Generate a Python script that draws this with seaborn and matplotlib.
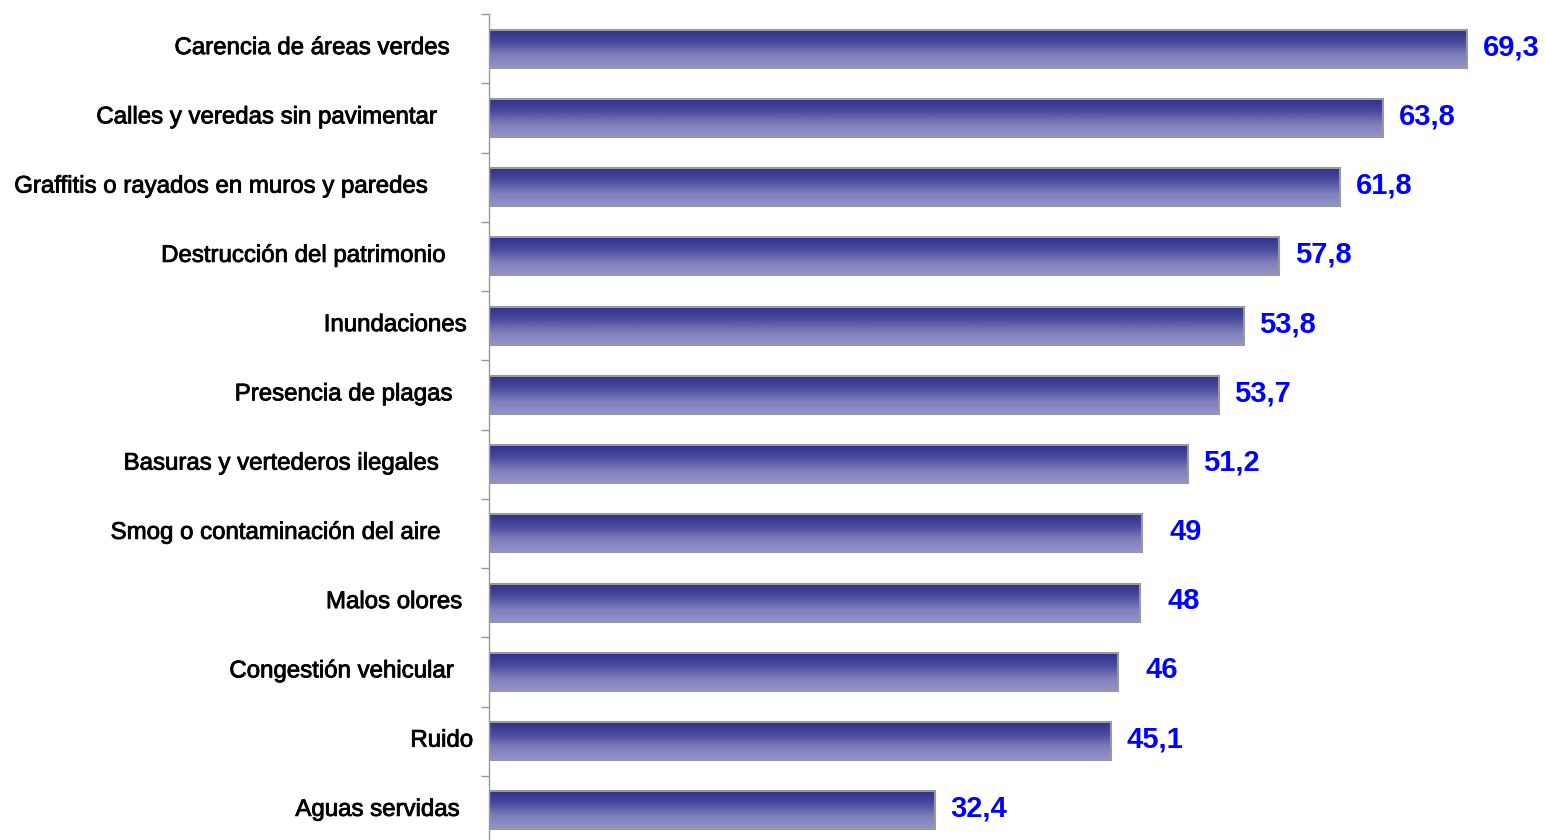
import numpy as np
import pandas as pd
import seaborn as sns
import matplotlib.pyplot as plt
import matplotlib.patheffects as pe
from matplotlib.colors import LinearSegmentedColormap
from matplotlib.transforms import ScaledTranslation

categorias = ["Carencia de áreas verdes", "Calles y veredas sin pavimentar",
              "Graffitis o rayados en muros y paredes", "Destrucción del patrimonio",
              "Inundaciones", "Presencia de plagas", "Basuras y vertederos ilegales",
              "Smog o contaminación del aire", "Malos olores", "Congestión vehicular",
              "Ruido", "Aguas servidas"]
# bar lengths as they appear in the picture
largo = [69.3, 63.35, 60.3, 56.0, 53.5, 51.7, 49.5, 46.3, 46.1, 44.6, 44.1, 31.6]
# printed value labels
etiquetas = ["69,3", "63,8", "61,8", "57,8", "53,8", "53,7", "51,2", "49", "48", "46", "45,1", "32,4"]

df = pd.DataFrame({"cat": categorias, "val": largo})

sns.set_style("white")
plt.rcParams['font.family'] = ['Liberation Sans', 'DejaVu Sans']

fig = plt.figure(figsize=(15.45, 8.4), dpi=100)
ax = fig.add_axes([489/1545, -5/840, 1 - 489/1545, 831/840])

sns.barplot(data=df, x="val", y="cat", orient="h", width=0.55,
            facecolor="none", edgecolor="#9a9a9a", linewidth=1.5, ax=ax)

cmap = LinearSegmentedColormap.from_list("grad", ["#2e2e8c", "#4a4a9e", "#7e7eba", "#9393c9"])
grad = np.linspace(0, 1, 100).reshape(-1, 1)
for bar in ax.patches:
    x0, y0 = bar.get_x(), bar.get_y()
    w, h = bar.get_width(), bar.get_height()
    im = ax.imshow(grad, cmap=cmap, aspect="auto", extent=(x0, x0 + w, y0 + h, y0),
                   origin="upper", zorder=1, interpolation="bicubic")
    im.set_clip_path(bar)
    bar.set_zorder(2)

for bar, txt in zip(ax.patches, etiquetas):
    ax.annotate(txt, (bar.get_width(), bar.get_y() + bar.get_height() / 2),
                xytext=(31.5, 1), textcoords="offset points", ha="center", va="center",
                fontsize=21, color="#0000ff", fontweight="bold")

ax.set_xlim(0, (1545 - 489) / 14.113)
ax.set_ylim(11.5, -0.5)
ax.set_xlabel("")
ax.set_ylabel("")
ax.set_xticks([])
ax.set_yticks(range(len(categorias)))
ax.set_yticklabels(categorias, fontsize=17.3)
ax.set_yticks(np.arange(-0.5, len(categorias), 1), minor=True)
ax.tick_params(axis="y", which="major", length=0, pad=28, colors="black")
ax.tick_params(axis="y", which="minor", length=6, width=1, color="#999999", left=True)

# the original labels sit as loose text boxes, their right ends are not aligned
fin = [449, 436, 427, 445, 466, 452, 438, 440, 462, 453, 473, 459]
for lab, e in zip(ax.get_yticklabels(), fin):
    lab.set_transform(lab.get_transform() + ScaledTranslation((e - 450) / 100, 3 / 100, fig.dpi_scale_trans))
    lab.set_path_effects([pe.withStroke(linewidth=0.6, foreground="black")])

for s in ["top", "right", "bottom"]:
    ax.spines[s].set_visible(False)
ax.spines["left"].set_color("#999999")
ax.spines["left"].set_linewidth(1)

fig.savefig("out.png", dpi=100)
